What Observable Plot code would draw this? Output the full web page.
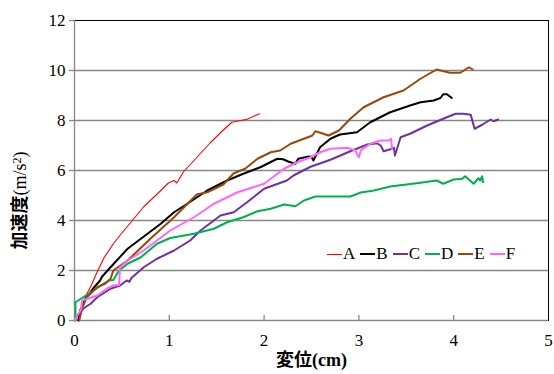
<!DOCTYPE html>
<html>
<head>
<meta charset="utf-8">
<script src="https://cdn.jsdelivr.net/npm/d3@7"></script>
<script src="https://cdn.jsdelivr.net/npm/@observablehq/plot@0.6"></script>
<style>
  html, body { margin: 0; padding: 0; background: #fff; }
  #wrap { position: relative; width: 554px; height: 374px; }
  #legend { position: absolute; left: 327px; top: 244px; display: flex; align-items: center;
            font-family: "Liberation Serif", "Times New Roman", serif; font-size: 17px; color: #000; }
  #legend .item { display: flex; align-items: center; margin-right: 5px; }
  #legend .sw { display: inline-block; width: 15px; margin-right: 1px; }
</style>
</head>
<body>
<div id="wrap"></div>
<script>
const seriesNames = ["A", "B", "C", "D", "E", "F"];
const seriesColors = ["#FF0000", "#000000", "#7030A0", "#00B050", "#984807", "#FF66FF"];
const seriesWidths = [1.1, 2, 2, 2, 2, 2];

const A = [[0.04,0],[0.08,0.5],[0.12,1.0],[0.17,1.35],[0.24,1.95],[0.31,2.5],[0.41,3.07],[0.5,3.5],[0.61,4.0],[0.73,4.55],[0.87,5.05],[0.99,5.5],[1.05,5.6],[1.08,5.5],[1.15,5.95],[1.26,6.4],[1.43,7.1],[1.55,7.55],[1.66,7.93],[1.82,8.05],[1.95,8.27]];
const B = [[0.04,0],[0.06,0.4],[0.12,0.9],[0.19,1.25],[0.27,1.6],[0.29,1.75],[0.38,2.13],[0.56,2.87],[0.77,3.47],[0.91,3.87],[1.05,4.33],[1.19,4.67],[1.4,5.2],[1.61,5.6],[1.78,5.87],[1.96,6.13],[2.14,6.47],[2.2,6.45],[2.26,6.35],[2.33,6.27],[2.36,6.47],[2.47,6.56],[2.5,6.55],[2.52,6.4],[2.59,6.93],[2.7,7.27],[2.8,7.44],[2.98,7.53],[3.12,7.93],[3.33,8.33],[3.54,8.6],[3.65,8.73],[3.79,8.8],[3.86,8.9],[3.89,9.05],[3.93,9.05],[3.98,8.9]];
const C = [[0,0],[0.03,0.2],[0.1,0.5],[0.17,0.67],[0.24,0.93],[0.38,1.27],[0.48,1.4],[0.55,1.6],[0.58,1.55],[0.6,1.7],[0.73,2.13],[0.87,2.47],[1.05,2.8],[1.22,3.2],[1.33,3.6],[1.54,4.2],[1.68,4.33],[1.82,4.73],[2.0,5.27],[2.24,5.6],[2.31,5.8],[2.49,6.15],[2.7,6.43],[2.91,6.77],[3.09,7.04],[3.19,7.09],[3.23,7.0],[3.26,6.77],[3.35,6.87],[3.37,6.91],[3.38,6.6],[3.44,7.33],[3.54,7.47],[3.72,7.8],[3.89,8.07],[4.02,8.27],[4.1,8.27],[4.18,8.23],[4.22,7.67],[4.3,7.83],[4.39,8.04],[4.42,7.97],[4.47,8.04]];
const D = [[0.01,0],[0.01,0.73],[0.12,1.0],[0.24,1.3],[0.36,1.6],[0.41,1.62],[0.47,2.0],[0.56,2.27],[0.7,2.53],[0.87,3.07],[1.01,3.3],[1.26,3.47],[1.47,3.67],[1.61,3.93],[1.78,4.13],[1.93,4.37],[2.07,4.47],[2.21,4.64],[2.33,4.57],[2.42,4.8],[2.54,4.96],[2.91,4.96],[3.02,5.12],[3.16,5.2],[3.33,5.36],[3.65,5.51],[3.82,5.6],[3.89,5.47],[4.0,5.64],[4.09,5.67],[4.12,5.77],[4.21,5.47],[4.26,5.69],[4.28,5.6],[4.3,5.77],[4.31,5.53]];
const E = [[0.05,0],[0.08,0.5],[0.13,0.93],[0.24,1.33],[0.33,1.49],[0.38,1.67],[0.41,2.0],[0.56,2.4],[0.8,3.27],[1.05,4.13],[1.29,5.04],[1.4,5.13],[1.57,5.44],[1.68,5.89],[1.8,6.07],[1.93,6.47],[2.07,6.73],[2.17,6.8],[2.28,7.07],[2.51,7.4],[2.54,7.57],[2.61,7.49],[2.68,7.4],[2.79,7.6],[2.91,8.07],[3.05,8.53],[3.26,8.93],[3.47,9.2],[3.65,9.67],[3.82,10.04],[3.96,9.91],[4.07,9.91],[4.16,10.13],[4.2,10.04]];
const F = [[0,0],[0.03,0.2],[0.07,0.45],[0.08,0.8],[0.12,0.85],[0.24,1.0],[0.34,1.27],[0.41,1.4],[0.47,1.42],[0.48,2.13],[0.56,2.4],[0.73,2.8],[1.01,3.6],[1.26,4.13],[1.47,4.67],[1.72,5.13],[2.0,5.47],[2.21,6.07],[2.35,6.33],[2.49,6.53],[2.59,6.73],[2.7,6.87],[2.88,6.91],[2.96,6.8],[3.0,6.53],[3.02,6.8],[3.12,7.07],[3.23,7.2],[3.31,7.2],[3.34,7.27],[3.35,6.85]];

const xTicks = [0, 1, 2, 3, 4, 5];
const yTicks = [0, 2, 4, 6, 8, 10, 12];
const gridY = [2, 4, 6, 8, 10];
const xLabel = "変位(cm)";
const yLabelMain = "加速度";
const yLabelUnit = "(m/s";
const yLabelSup = "2";
const yLabelEnd = ")";

const allSeries = [A, B, C, D, E, F];
const font = "'Liberation Serif', 'Times New Roman', 'Noto Sans CJK JP', serif";
const grey = "#878787";

const chart = Plot.plot({
  width: 554,
  height: 374,
  marginLeft: 74,
  marginRight: 6,
  marginTop: 20,
  marginBottom: 54,
  style: { fontFamily: font, fontSize: "17px", color: "#000", background: "#fff" },
  x: { domain: [0, 5] },
  y: { domain: [0, 12] },
  marks: [
    Plot.frame({ stroke: "#000", strokeWidth: 1 }),
    Plot.ruleY(gridY, { stroke: grey, strokeWidth: 1.3 }),
    Plot.ruleX([0], { stroke: grey, strokeWidth: 1.3 }),
    Plot.ruleY([0], { stroke: grey, strokeWidth: 1.3 }),
    Plot.ruleX(xTicks.slice(1, -1), { y1: 0, y2: 0.2, stroke: grey, strokeWidth: 1.3 }),
    ...allSeries.map((s, i) => Plot.line(s, {
      x: d => d[0], y: d => d[1],
      stroke: seriesColors[i], strokeWidth: seriesWidths[i], strokeLinejoin: "round"
    })),
    Plot.axisY(yTicks, { tickSize: 5, tickPadding: 4, stroke: grey, strokeWidth: 1.3, fontSize: 17, label: null }),
    Plot.axisX(xTicks, { tickSize: 0, tickPadding: 13, fontSize: 17, label: null }),
    Plot.text([xLabel], { frameAnchor: "bottom", dy: 45, text: d => d, fontWeight: "bold", fontSize: 18 }),
    Plot.text([yLabelMain], { frameAnchor: "left", dx: -54, dy: 30, rotate: -90, textAnchor: "middle", text: d => d, fontSize: 18, className: "ylab" })
  ]
});

// rich y label: bold CJK, regular unit with superscript
const yt = d3.select(chart).select(".ylab text");
yt.text(null);
yt.append("tspan").attr("font-weight", "bold").text(yLabelMain);
yt.append("tspan").text(yLabelUnit);
yt.append("tspan").attr("font-size", 12).attr("dy", "-0.45em").text(yLabelSup);
yt.append("tspan").attr("dy", "0.3em").text(yLabelEnd);

const wrap = document.getElementById("wrap");
wrap.appendChild(chart);

const legend = document.createElement("div");
legend.id = "legend";
seriesNames.forEach((name, i) => {
  const item = document.createElement("div");
  item.className = "item";
  const sw = document.createElement("span");
  sw.className = "sw";
  sw.style.height = Math.round(seriesWidths[i]) + "px";
  sw.style.background = seriesColors[i];
  const t = document.createElement("span");
  t.textContent = name;
  item.appendChild(sw);
  item.appendChild(t);
  legend.appendChild(item);
});
wrap.appendChild(legend);
</script>
</body>
</html>
